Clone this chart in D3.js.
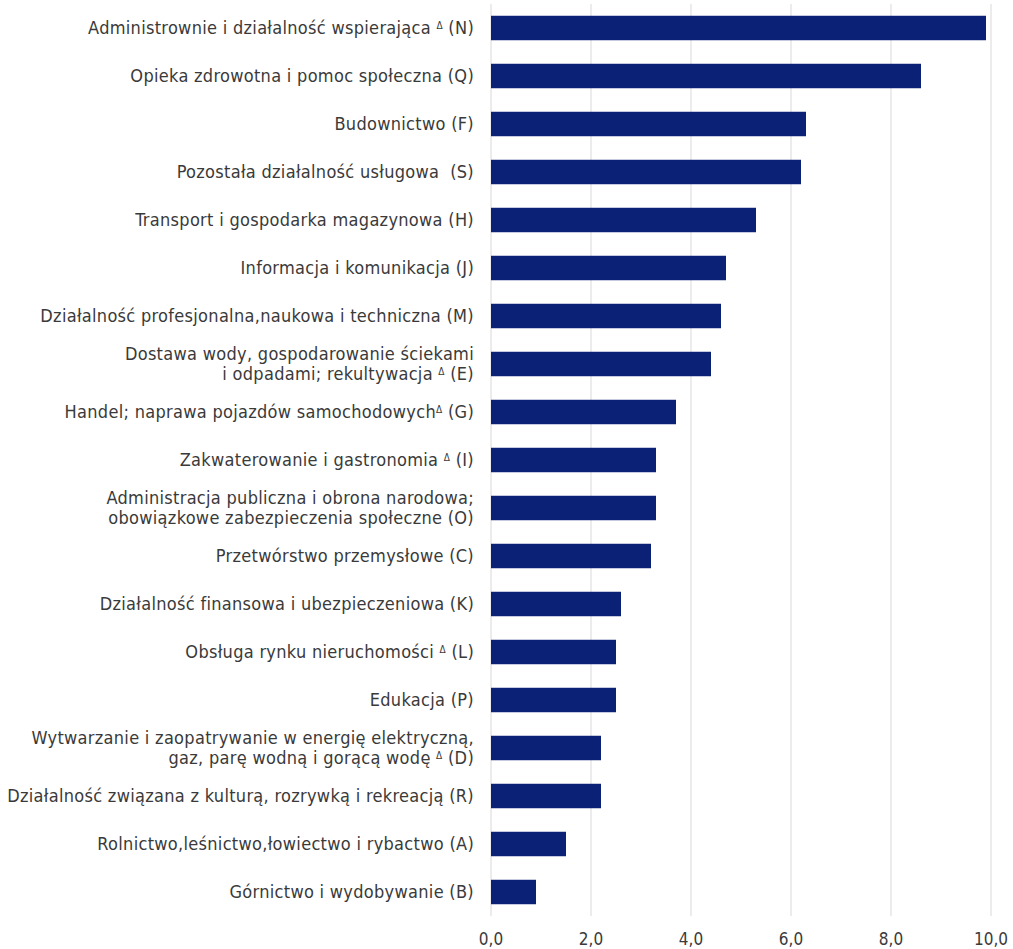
<!DOCTYPE html>
<html>
<head>
<meta charset="utf-8">
<script src="https://cdn.jsdelivr.net/npm/d3@7"></script>
<style>
  body { margin: 0; background: #fff; }
  svg { display: block; }
  text { font-family: "DejaVu Sans Condensed", "Liberation Sans", sans-serif; }
  .label { fill: #3a3a3a; font-size: 18px; letter-spacing: 0.3px; white-space: pre; }
  .tick-label { fill: #3a3a3a; font-size: 17px; }
</style>
</head>
<body>
<svg id="chart" width="1013" height="949"></svg>
<script>
// sekcje PKD, kolejność jak na wykresie (od góry)
var categories = [
  "Administrownie i działalność wspierająca Δ (N)",
  "Opieka zdrowotna i pomoc społeczna (Q)",
  "Budownictwo (F)",
  "Pozostała działalność usługowa  (S)",
  "Transport i gospodarka magazynowa (H)",
  "Informacja i komunikacja (J)",
  "Działalność profesjonalna,naukowa i techniczna (M)",
  "Dostawa wody, gospodarowanie ściekami|i odpadami; rekultywacja Δ (E)",
  "Handel; naprawa pojazdów samochodowychΔ (G)",
  "Zakwaterowanie i gastronomia Δ (I)",
  "Administracja publiczna i obrona narodowa;|obowiązkowe zabezpieczenia społeczne (O)",
  "Przetwórstwo przemysłowe (C)",
  "Działalność finansowa i ubezpieczeniowa (K)",
  "Obsługa rynku nieruchomości Δ (L)",
  "Edukacja (P)",
  "Wytwarzanie i zaopatrywanie w energię elektryczną,|gaz, parę wodną i gorącą wodę Δ (D)",
  "Działalność związana z kulturą, rozrywką i rekreacją (R)",
  "Rolnictwo,leśnictwo,łowiectwo i rybactwo (A)",
  "Górnictwo i wydobywanie (B)"
];
var values = [9.9, 8.6, 6.3, 6.2, 5.3, 4.7, 4.6, 4.4, 3.7, 3.3, 3.3, 3.2, 2.6, 2.5, 2.5, 2.2, 2.2, 1.5, 0.9];
var xTicks = [0, 2, 4, 6, 8, 10];
var xTickLabels = ["0,0", "2,0", "4,0", "6,0", "8,0", "10,0"];

var svg = d3.select("#chart");
var plot = { left: 491, right: 991, top: 4, bottom: 916 };

var xScale = d3.scaleLinear().domain([0, 10]).range([plot.left, plot.right]);
var yScale = d3.scaleBand()
  .domain(categories)
  .range([plot.top, plot.bottom])
  .paddingInner(0.49)
  .paddingOuter(0.245);

// linie siatki
svg.append("g")
  .selectAll("line")
  .data(xTicks)
  .enter().append("line")
  .attr("x1", function (d) { return xScale(d); })
  .attr("x2", function (d) { return xScale(d); })
  .attr("y1", plot.top)
  .attr("y2", plot.bottom)
  .attr("stroke", "#d9d9d9")
  .attr("stroke-width", 1);

// słupki
svg.append("g")
  .selectAll("rect")
  .data(categories)
  .enter().append("rect")
  .attr("x", xScale(0))
  .attr("y", function (d) { return yScale(d); })
  .attr("width", function (d, i) { return xScale(values[i]) - xScale(0); })
  .attr("height", yScale.bandwidth())
  .attr("fill", "#0b2176");

// etykiety osi X
svg.append("g")
  .selectAll("text")
  .data(xTicks)
  .enter().append("text")
  .attr("class", "tick-label")
  .attr("x", function (d) { return xScale(d); })
  .attr("y", 945)
  .attr("text-anchor", "middle")
  .text(function (d, i) { return xTickLabels[i]; });

// etykiety kategorii (z trójkątem w indeksie górnym)
var lineH = 20;
categories.forEach(function (cat) {
  var lines = cat.split("|");
  var cy = yScale(cat) + yScale.bandwidth() / 2;
  var t = svg.append("text")
    .attr("class", "label")
    .attr("text-anchor", "end")
    .attr("x", 474)
    .attr("y", cy - (lines.length - 1) * lineH / 2)
    .attr("dy", "0.36em");
  lines.forEach(function (line, li) {
    var parts = line.split("Δ");
    parts.forEach(function (p, pi) {
      var ts = t.append("tspan").text(p);
      if (pi === 0 && li > 0) ts.attr("x", 474).attr("dy", lineH);
      if (pi < parts.length - 1) {
        t.append("tspan")
          .attr("font-size", "10px")
          .attr("baseline-shift", "5px")
          .text("Δ");
      }
    });
  });
});
</script>
</body>
</html>
